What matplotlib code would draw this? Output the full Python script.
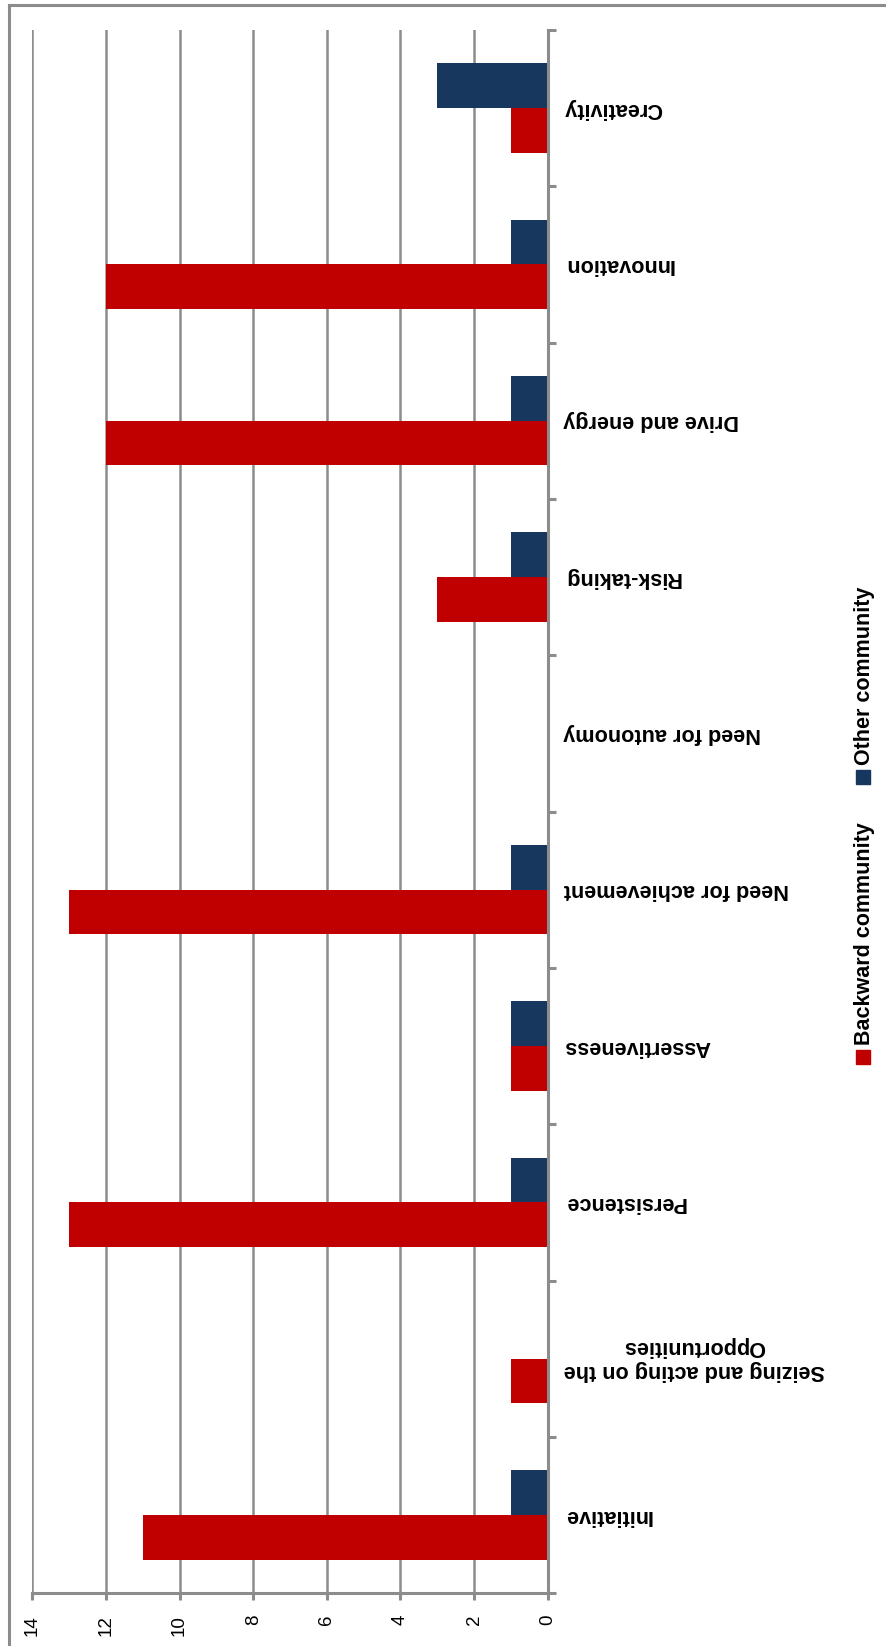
import numpy as np
import matplotlib.pyplot as plt
import matplotlib.transforms as mtransforms
from matplotlib.lines import Line2D
from matplotlib.patches import Rectangle

# data, bottom category first
categories = [
    "Initiative",
    "Seizing and acting on the\nOpportunities",
    "Persistence",
    "Assertiveness",
    "Need for achievement",
    "Need for autonomy",
    "Risk-taking",
    "Drive and energy",
    "Innovation",
    "Creativity",
]
backward = [11, 1, 13, 1, 13, 0, 3, 12, 12, 1]
other = [1, 0, 1, 1, 1, 0, 1, 1, 1, 3]
series_names = ["Backward community", "Other community"]

RED = "#C00000"
BLUE = "#17375E"
GRAY = "#8C8C8C"

plt.rcParams["font.family"] = ["Liberation Sans", "DejaVu Sans"]

W, H = 886, 1646
fig = plt.figure(figsize=(W / 100, H / 100), dpi=100)

# axes box in pixels
x0, x1 = 32.3, 547.7
y_top, y_bot = 30, 1593.3
ax = fig.add_axes([x0 / W, (H - y_bot) / H, (x1 - x0) / W, (y_bot - y_top) / H])

pos = np.arange(len(categories))
bh = 1 / 3.5
ax.barh(pos - bh / 2, backward, height=bh, color=RED, zorder=3)
ax.barh(pos + bh / 2, other, height=bh, color=BLUE, zorder=3)

ax.set_xlim(14, 0)
ax.set_ylim(-0.5, len(categories) - 0.5)

# value axis
ax.set_xticks(np.arange(0, 15, 2))
ax.tick_params(axis="x", direction="out", length=5, width=2.2, color=GRAY,
               pad=10.5, labelsize=13.5)
for lab in ax.get_xticklabels():
    lab.set_rotation(90)
ax.grid(axis="x", color=GRAY, linewidth=1.8, zorder=0)

# category axis on the right
ax.yaxis.tick_right()
ax.set_yticks(pos)
ax.set_yticklabels(categories, fontsize=15.6, fontweight="bold",
                   rotation=180, multialignment="center", va="center")
# nudge labels up a few pixels
shift = mtransforms.ScaledTranslation(0, 3 / 100, fig.dpi_scale_trans)
for lab in ax.get_yticklabels():
    lab.set_transform(lab.get_transform() + shift)
ax.set_yticks(np.arange(-0.5, len(categories), 1), minor=True)
ax.tick_params(axis="y", which="major", length=0, pad=11.5)
ax.tick_params(axis="y", which="minor", direction="out", length=5.8,
               width=2.2, color=GRAY)

for s in ["left", "top"]:
    ax.spines[s].set_visible(False)
for s in ["right", "bottom"]:
    ax.spines[s].set_color(GRAY)
    ax.spines[s].set_linewidth(2.2)
ax.spines["right"].set_zorder(4)

# legend, rotated like the rest of the chart
leg_x = 863
legend_items = [(1057, 1045, series_names[0], RED), (777, 765, series_names[1], BLUE)]
for my, ty, name, col in legend_items:
    fig.add_artist(Rectangle(((leg_x - 7) / W, (H - my - 7) / H), 14 / W, 14 / H,
                             transform=fig.transFigure, color=col))
    fig.text(leg_x / W + 0.0012, (H - ty) / H, name, rotation=90, ha="center",
             va="bottom", fontsize=15.5, fontweight="bold")

# chart border (top and left visible)
fig.add_artist(Line2D([9 / W, 1], [(H - 5) / H, (H - 5) / H], color=GRAY, linewidth=2.2))
fig.add_artist(Line2D([9 / W, 9 / W], [0, (H - 5) / H], color=GRAY, linewidth=2.2))

fig.savefig("out.png", dpi=100, facecolor="white")
